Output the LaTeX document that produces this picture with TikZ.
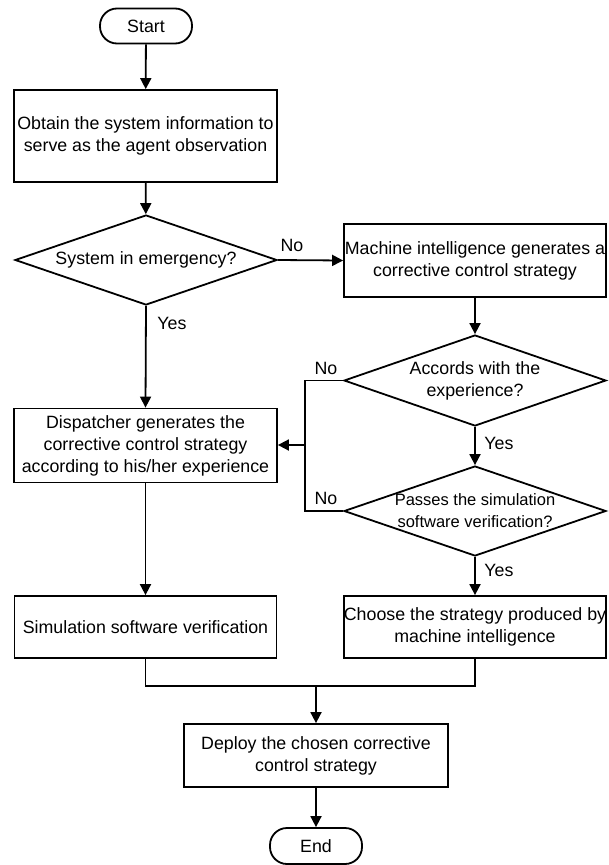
\documentclass[tikz,border=0pt]{standalone}
\usepackage{fontspec}
\setmainfont{Liberation Sans}
\usetikzlibrary{arrows.meta,shapes.geometric}

\tikzset{
  base/.style={draw, line width=1.8pt, inner sep=0pt, align=center,
    font=\fontsize{17.8}{22}\selectfont},
  stepbox/.style={base, rectangle, minimum width=#1},
  stepbox/.default=262pt,
  term/.style={base, rectangle, rounded corners=17pt, minimum width=92pt, minimum height=35pt},
  choice/.style={base, diamond, minimum width=262pt, minimum height=90pt},
  flow/.style={line width=1.8pt, -{Triangle[length=11pt,width=11pt]}},
  link/.style={line width=1.8pt},
  answer/.style={font=\fontsize{17.8}{22}\selectfont, inner sep=0pt}
}

\begin{document}
\begin{tikzpicture}[x=1pt, y=-1pt]
  \useasboundingbox (0,0) rectangle (608,865);

  % terminators
  \node[term] (start) at (146,26) {Start};
  \node[term, minimum height=36pt] (end) at (316,846) {End};

  % process boxes
  \node[stepbox=263pt, minimum height=92pt] (obtain) at (145.5,136)
    {Obtain the system information to\\serve as the agent observation};
  \node[stepbox, minimum height=73pt] (mach) at (475,260.5)
    {Machine intelligence generates a\\corrective control strategy};
  \node[stepbox=263pt, minimum height=74pt] (disp) at (145.5,445.5)
    {Dispatcher generates the\\corrective control strategy\\according to his/her experience};
  \node[stepbox, minimum height=62pt] (sim) at (145.5,627)
    {Simulation software verification};
  \node[stepbox, minimum height=62pt] (choose) at (475,627)
    {Choose the strategy produced by\\machine intelligence};
  \node[stepbox=264pt, minimum height=63pt] (deploy) at (316,755.5)
    {Deploy the chosen corrective\\control strategy};

  % decisions
  \node[choice] (d1) at (146,260) {};
  \node[answer] at (d1.center) {System in emergency?};
  \node[choice, minimum height=91pt] (d2) at (475,380.5) {};
  \node[answer, align=center] at (d2.center) {Accords with the\\experience?};
  \node[choice] (d3) at (475,511) {};
  \node[answer, align=center, font=\fontsize{16.5}{22}\selectfont] at (d3.center)
    {Passes the simulation\\software verification?};

  % junction points
  \coordinate (j) at (305,445);
  \coordinate (m) at (316,686);

  % connectors
  \draw[flow] (start) -- (obtain);
  \draw[flow] (obtain) -- (d1);
  \draw[flow] (d1.east) -- (mach.west);
  \draw[flow] (d1.south) -- (disp.north);
  \draw[flow] (mach) -- (d2.north);
  \draw[flow] (d2.south) -- (d3.north);
  \draw[flow] (d3.south) -- (choose.north);
  \draw[link] (d2.west) -| (j) |- (d3.west);
  \draw[flow] (j) -- (disp.east |- j);
  \draw[flow] (disp) -- (sim);
  \draw[link] (sim.south) |- (m) -| (choose.south);
  \draw[flow] (m) -- (deploy.north);
  \draw[flow] (deploy) -- (end);

  % branch labels
  \node[answer] (no1) at (292,245) {No};
  \node[answer] (yes1) at (172,323) {Yes};
  \node[answer] (no2) at (326,368) {No};
  \node[answer] (yes2) at (499,443) {Yes};
  \node[answer] (no3) at (326,498) {No};
  \node[answer] (yes3) at (499,570) {Yes};
\end{tikzpicture}
\end{document}
